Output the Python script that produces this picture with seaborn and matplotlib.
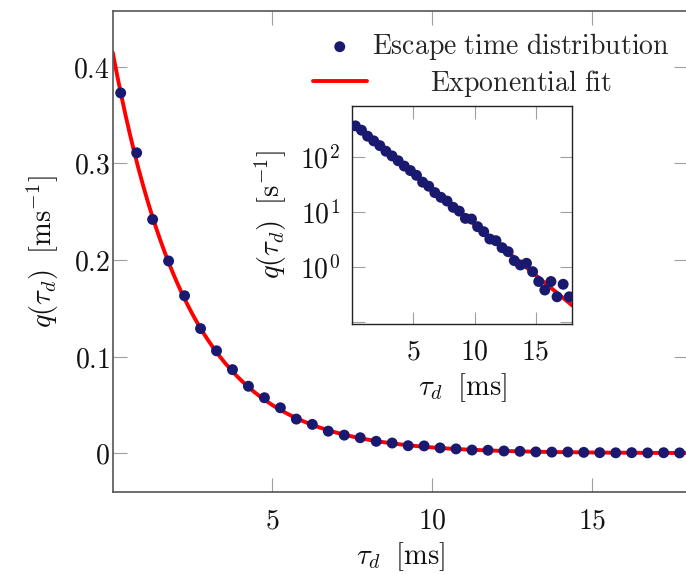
import numpy as np
import pandas as pd
import matplotlib
matplotlib.use("Agg")
import matplotlib.pyplot as plt
import seaborn as sns
from matplotlib.ticker import FixedLocator, LogLocator, NullFormatter, FuncFormatter

# ---------------- data ----------------
tau_ms = [0.25, 0.75, 1.25, 1.75, 2.25, 2.75, 3.25, 3.75, 4.25, 4.75,
          5.25, 5.75, 6.25, 6.75, 7.25, 7.75, 8.25, 8.75, 9.25, 9.75,
          10.25, 10.75, 11.25, 11.75, 12.25, 12.75, 13.25, 13.75, 14.25, 14.75,
          15.25, 15.75, 16.25, 16.75, 17.25, 17.75]
# escape time distribution in s^-1
q_per_s = [373, 311, 242, 199, 163, 129, 106, 86.5, 69.3, 57.4,
           47.0, 35.3, 29.8, 22.8, 18.7, 16.0, 12.3, 10.5, 7.74, 7.53,
           5.47, 4.43, 3.26, 3.04, 2.27, 1.92, 1.32, 1.10, 1.18, 0.83,
           0.55, 0.385, 0.55, 0.29, 0.49, 0.29]
# exponential fit parameters: q = A * exp(-k * tau)
fit_amp_per_ms = 0.415
fit_rate_per_ms = 0.424

x_ticks_main = [5, 10, 15]
y_ticks_main = [0, 0.1, 0.2, 0.3, 0.4]
y_ticks_inset = [0.1, 1, 10, 100]
y_ticklabels_inset = ["", r"$10^{0}$", r"$10^{1}$", r"$10^{2}$"]

legend_labels = [r"$\mathrm{Escape\ time\ distribution}$", r"$\mathrm{Exponential\ fit}$"]
xlabel = r"$\tau_d\ \;[\mathrm{ms}]$"
ylabel_main = r"$q(\tau_d)\ \;[\mathrm{ms}^{-1}]$"
ylabel_inset = r"$q(\tau_d)\ \;[\mathrm{s}^{-1}]$"

df = pd.DataFrame({"tau": tau_ms, "q_s": q_per_s})
df["q_ms"] = df["q_s"] / 1000.0
t_fit = np.linspace(0, 18, 400)
fit = pd.DataFrame({"tau": t_fit, "q_ms": fit_amp_per_ms * np.exp(-fit_rate_per_ms * t_fit)})
fit["q_s"] = fit["q_ms"] * 1000.0

# ---------------- style ----------------
sns.set_theme(style="white")
plt.rcParams.update({
    "font.family": ["DejaVu Serif"],
    "mathtext.fontset": "cm",
    "font.size": 20,
    "axes.unicode_minus": True,
})

DOT = "#191970"
RED = "#ff0000"
FS = 20
FS_LAB = 20.5

fig = plt.figure(figsize=(6.86, 5.74), dpi=100)
ax = fig.add_axes([0.1643, 0.1420, 0.8380, 0.8388])

sns.lineplot(data=fit, x="tau", y="q_ms", ax=ax, color=RED, lw=2.8, zorder=2,
             label=legend_labels[1])
sns.scatterplot(data=df, x="tau", y="q_ms", ax=ax, color=DOT, s=62, edgecolor="none",
                linewidth=0, zorder=3, label=legend_labels[0])

ax.set_xlim(0, 18)
ax.set_ylim(-0.0407, 0.4578)
ax.xaxis.set_major_locator(FixedLocator(x_ticks_main))
ax.yaxis.set_major_locator(FixedLocator(y_ticks_main))
fmt = FuncFormatter(lambda v, p: f"${v:g}$")
ax.xaxis.set_major_formatter(fmt)
ax.yaxis.set_major_formatter(fmt)
ax.tick_params(axis="both", which="major", direction="in", length=10, width=0.8,
               color="#a0a0a0", labelsize=FS, top=True, right=True,
               bottom=True, left=True, labelcolor="#111111")
ax.tick_params(axis="x", pad=11)
ax.tick_params(axis="y", pad=2)
for sp in ax.spines.values():
    sp.set_color("#555555")
    sp.set_linewidth(1.2)
ax.set_xlabel(xlabel, fontsize=FS_LAB, labelpad=4, color="#111111")
ax.set_ylabel(ylabel_main, fontsize=FS_LAB, labelpad=9, color="#111111")

h, l = ax.get_legend_handles_labels()
order = [l.index(legend_labels[0]), l.index(legend_labels[1])]
leg = ax.legend([h[i] for i in order], [l[i] for i in order], loc="upper right",
                bbox_to_anchor=(670 / 686, 1 - 31 / 574), bbox_transform=fig.transFigure,
                frameon=False, fontsize=FS, handlelength=1.95, handletextpad=0.2,
                labelspacing=0.22, borderpad=0, borderaxespad=0, markerscale=1.0)

# ---------------- inset ----------------
axi = fig.add_axes([0.5136, 0.435, 0.3207, 0.3808])
sns.lineplot(data=fit, x="tau", y="q_s", ax=axi, color=RED, lw=2.8, zorder=2)
sns.scatterplot(data=df, x="tau", y="q_s", ax=axi, color=DOT, s=62, edgecolor="none",
                linewidth=0, zorder=3)
axi.set_yscale("log")
axi.set_xlim(0, 18)
axi.set_ylim(0.0916, 867)
axi.xaxis.set_major_locator(FixedLocator(x_ticks_main))
axi.xaxis.set_major_formatter(fmt)
axi.yaxis.set_major_locator(FixedLocator(y_ticks_inset))
axi.set_yticklabels(y_ticklabels_inset)
axi.yaxis.set_minor_locator(LogLocator(base=10, subs=np.arange(2, 10)))
axi.yaxis.set_minor_formatter(NullFormatter())
axi.tick_params(axis="both", which="major", direction="in", length=9, width=0.8,
                color="#a0a0a0", labelsize=FS, top=True, right=True,
                bottom=True, left=True, labelcolor="#111111")
axi.tick_params(axis="y", which="minor", direction="in", length=5, width=0.7,
                color="#a0a0a0", left=True, right=True)
axi.tick_params(axis="x", pad=10)
axi.tick_params(axis="y", pad=9)
for sp in axi.spines.values():
    sp.set_color("#222222")
    sp.set_linewidth(1.0)
axi.set_xlabel(xlabel, fontsize=FS_LAB, labelpad=4, color="#111111")
axi.set_ylabel(ylabel_inset, fontsize=FS_LAB, labelpad=8, color="#111111")
if axi.get_legend() is not None:
    axi.get_legend().remove()

# center legend texts like pgfplots
fig.canvas.draw()
r = fig.canvas.get_renderer()
texts = leg.get_texts()
widths = [t.get_window_extent(r).width for t in texts]
wmax = max(widths)
for t, w in zip(texts, widths):
    t.set_position(((wmax - w) / 2.0, 0))

fig.savefig("out.png", dpi=100)
